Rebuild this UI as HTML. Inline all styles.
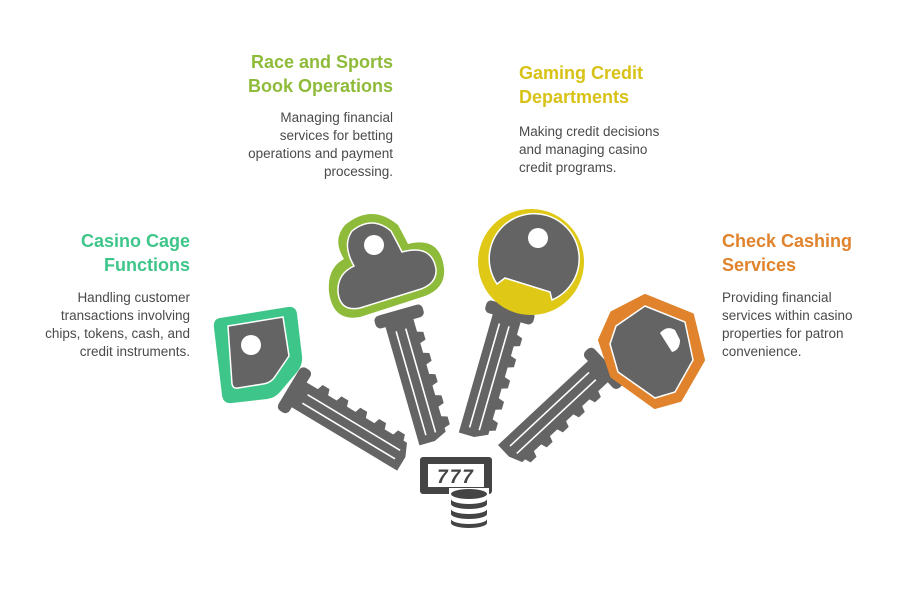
<!DOCTYPE html>
<html><head><meta charset="utf-8"><style>
body{margin:0;background:#fff;width:912px;height:613px;overflow:hidden;font-family:"Liberation Sans",sans-serif}
.t{position:absolute;font-weight:bold;font-size:18px;line-height:24px}
.b{position:absolute;font-size:13.5px;line-height:18px;color:#4a4a4a}
.r{text-align:right}
</style></head><body>
<svg width="912" height="613" style="position:absolute;left:0;top:0">
<defs>
<g id="key">
<rect x="-6" y="-25" width="13" height="50" rx="5" fill="#646464"/>
<path d="M6,-13 L20,-13 L22,-19 L30,-19 L32,-13 L42,-13 L44,-19 L52,-19 L54,-13 L64,-13 L66,-19 L74,-19 L76,-13 L86,-13 L88,-19 L96,-19 L98,-13 L108,-13 L110,-19 L118,-19 L120,-13 L124,-13 L130,0 L130,16 L6,16 Z" fill="#646464"/>
<path d="M14,-3 L122,-3 M14,7 L122,7" stroke="#fff" stroke-width="1.6"/>
</g>
</defs>
<!-- key1 green -->
<use href="#key" transform="translate(294,390) rotate(31)"/>
<path d="M220,318 L288,307 Q296,306 297,314 L302,356 Q303,365 297,372 L280,392 Q275,398 267,399 L232,403 Q223,404 222,395 L214,328 Q213,319 220,318 Z" fill="#3ec68a"/>
<path d="M228,326 L283,317 L289,356 L274,378 Q270,383 263,384 L238,388 Q233,389 232,384 Z" fill="#646464" stroke="#fff" stroke-width="1.5"/>
<circle cx="251" cy="345" r="10" fill="#fff"/>
<!-- key2 olive -->
<use href="#key" transform="translate(399,316) rotate(74)"/>
<path d="M345,225 Q372,203 398,225 Q404,236 408,244 Q440,236 444,268 Q446,288 425,296 L360,317 Q333,322 329,292 Q327,268 344,259 Q332,240 345,225Z" fill="#8fbb3a"/>
<path d="M352,231 Q372,215 391,231 Q397,242 402,252 Q432,244 436,269 Q437,283 421,289 L360,308 Q340,312 338,292 Q337,274 354,266 Q342,245 352,231Z" fill="#646464" stroke="#fff" stroke-width="1.5"/>
<circle cx="374" cy="245" r="10" fill="#fff"/>
<!-- key3 yellow -->
<use href="#key" transform="translate(510,312) rotate(106)"/>
<circle cx="531" cy="262" r="53" fill="#e0c916"/>
<path d="M497,284 A45,45 0 1 1 552,300 L550,292 L505,278 Z" fill="#646464" stroke="#fff" stroke-width="1.5"/>
<circle cx="538" cy="238" r="10" fill="#fff"/>
<!-- key4 orange -->
<use href="#key" transform="translate(604,368) rotate(137)"/>
<path d="M645,296 L692,315 L703,360 L680,400 L655,407 L612,376 L600,340 L612,313 Z" fill="#e0832c" stroke="#e0832c" stroke-width="4" stroke-linejoin="round"/>
<path d="M645,306 L685,322 L693,360 L675,392 L655,398 L618,372 L610,344 L616,326 Z" fill="#646464" stroke="#fff" stroke-width="1.5"/>
<path d="M660,333 Q667,325 675,330 L680,340 Q680,350 672,352 Z" fill="#fff"/>
<!-- slot icon -->
<rect x="420" y="457" width="72" height="37" rx="3" fill="#444"/>
<rect x="428" y="464" width="56" height="23" fill="#fff"/>
<text x="456" y="483" font-size="19" font-weight="bold" font-style="italic" text-anchor="middle" fill="#444" font-family="Liberation Sans" letter-spacing="2">777</text>
<rect x="449" y="488" width="40" height="44" fill="#fff"/>
<ellipse cx="469" cy="494" rx="18" ry="5" fill="#444"/>
<path d="M451,499 L451,504 A18,5 0 0 0 487,504 L487,499 A18,5 0 0 1 451,499Z" fill="#444"/>
<path d="M451,509 L451,514 A18,5 0 0 0 487,514 L487,509 A18,5 0 0 1 451,509Z" fill="#444"/>
<path d="M451,519 L451,523 A18,5 0 0 0 487,523 L487,519 A18,5 0 0 1 451,519Z" fill="#444"/>
</svg>
<div class="t r" style="right:722px;top:229px;color:#3ec68a">Casino Cage<br>Functions</div>
<div class="b r" style="right:722px;top:289px">Handling customer<br>transactions involving<br>chips, tokens, cash, and<br>credit instruments.</div>
<div class="t r" style="right:519px;top:50px;color:#8fbb3a">Race and Sports<br>Book Operations</div>
<div class="b r" style="right:519px;top:109px">Managing financial<br>services for betting<br>operations and payment<br>processing.</div>
<div class="t" style="left:519px;top:61px;color:#d9c218">Gaming Credit<br>Departments</div>
<div class="b" style="left:519px;top:123px">Making credit decisions<br>and managing casino<br>credit programs.</div>
<div class="t" style="left:722px;top:229px;color:#e0832c">Check Cashing<br>Services</div>
<div class="b" style="left:722px;top:289px">Providing financial<br>services within casino<br>properties for patron<br>convenience.</div>
</body></html>
